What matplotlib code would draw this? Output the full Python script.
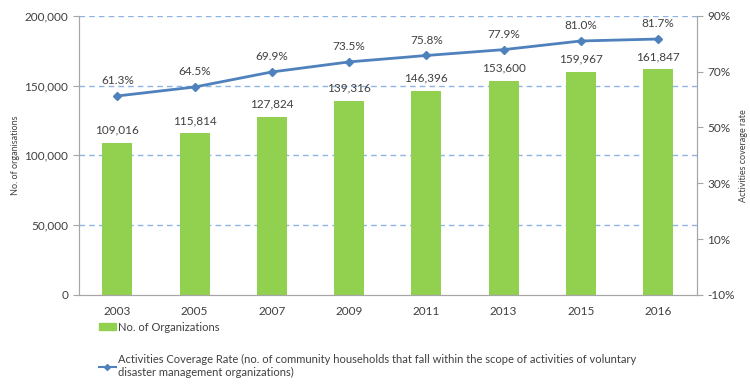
import matplotlib.pyplot as plt
from matplotlib.lines import Line2D
from matplotlib.patches import Patch

plt.rcParams['font.family'] = ['Lato', 'DejaVu Sans']

years = ['2003', '2005', '2007', '2009', '2011', '2013', '2015', '2016']
organizations = [109016, 115814, 127824, 139316, 146396, 153600, 159967, 161847]
coverage = [61.3, 64.5, 69.9, 73.5, 75.8, 77.9, 81.0, 81.7]

green = '#92D050'
blue = '#4F81BD'
txt = '#404040'

fig = plt.figure(figsize=(7.5, 3.87), dpi=100)
ax = fig.add_axes([0.105, 0.238, 0.824, 0.721])
x = range(len(years))

bars = ax.bar(x, organizations, width=0.39, color=green, zorder=2)
for xi, v in zip(x, organizations):
    ax.annotate(f'{v:,}', (xi, v), xytext=(0, 5), textcoords='offset points',
                ha='center', va='bottom', fontsize=8.5, color=txt)

ax.set_xlim(-0.5, len(years) - 0.5)
ax.set_ylim(0, 200000)
ax.set_yticks(range(0, 200001, 50000))
ax.set_yticklabels([f'{t:,}' for t in range(0, 200001, 50000)])
ax.set_xticks(list(x))
ax.set_xticklabels(years)
for t in range(50000, 200001, 50000):
    ax.axhline(t, color='#8EB4E3', ls=(0, (4, 3)), lw=1, zorder=1)
ax.set_ylabel('No. of organisations', fontsize=6.5, color=txt)
ax.yaxis.set_label_coords(-0.095, 0.5)

ax2 = ax.twinx()
ax2.plot(x, coverage, color=blue, lw=2, marker='D', ms=4.5, zorder=3)
for xi, v in zip(x, coverage):
    ax2.annotate(f'{v:.1f}%', (xi, v), xytext=(0, 7), textcoords='offset points',
                 ha='center', va='bottom', fontsize=8.5, color=txt)
ax2.set_ylim(-10, 90)
ax2.set_yticks(range(-10, 91, 20))
ax2.set_yticklabels([f'{t}%' for t in range(-10, 91, 20)])
ax2.set_ylabel('Activities coverage rate', fontsize=6.5, color=txt)
ax2.yaxis.set_label_coords(1.068, 0.5)

for a in (ax, ax2):
    for s in a.spines.values():
        s.set_color('#A6A6A6')
    a.spines['top'].set_visible(False)
    a.tick_params(colors='#A6A6A6', labelcolor=txt, labelsize=8.5, length=4)
ax.tick_params(axis='x', length=0, pad=8)

leg1 = fig.legend(handles=[Patch(color=green)], labels=['No. of Organizations'],
                  loc='upper left', bbox_to_anchor=(0.118, 0.195), frameon=False,
                  fontsize=8, handlelength=1.6, handleheight=0.5, handletextpad=0.15)
leg2 = fig.legend(handles=[Line2D([], [], color=blue, lw=1.5, marker='D', ms=3)],
                  labels=['Activities Coverage Rate (no. of community households that fall within the scope of activities of voluntary\ndisaster management organizations)'],
                  loc='upper left', bbox_to_anchor=(0.118, 0.11),
                  frameon=False, fontsize=8, handlelength=1.6, handletextpad=0.15)
for lg in (leg1, leg2):
    for t in lg.get_texts():
        t.set_color(txt)

fig.savefig('out.png', dpi=100)
